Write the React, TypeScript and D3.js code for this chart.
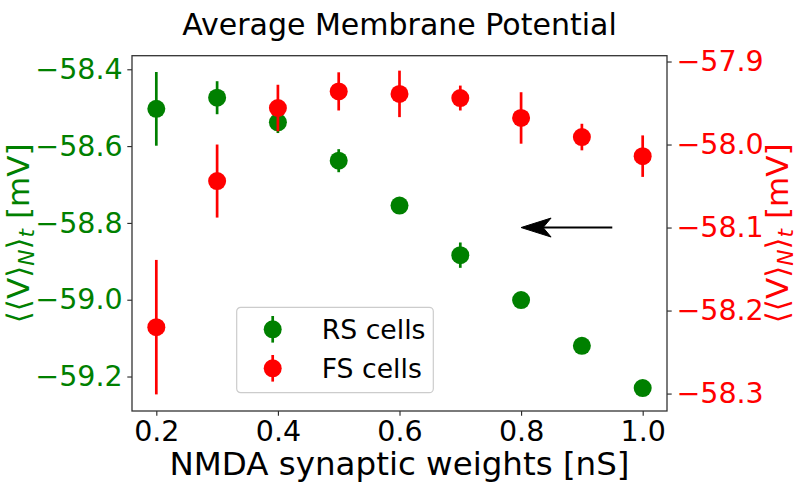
import React, { useEffect, useRef } from 'react';
import * as d3 from 'd3';

// data
const weights = [0.2, 0.3, 0.4, 0.5, 0.6, 0.7, 0.8, 0.9, 1.0];
const rsMean = [-58.503, -58.474, -58.538, -58.638, -58.755, -58.884, -59.001, -59.12, -59.23];
const rsErr = [0.096, 0.043, 0.028, 0.03, 0.006, 0.033, 0.005, 0.005, 0.005];
const fsMean = [-58.22, -58.044, -57.956, -57.936, -57.939, -57.944, -57.968, -57.991, -58.014];
const fsErr = [0.081, 0.044, 0.028, 0.023, 0.028, 0.015, 0.031, 0.016, 0.025];
const xTicks = [0.2, 0.4, 0.6, 0.8, 1.0];
const rsTicks = [-58.4, -58.6, -58.8, -59.0, -59.2];
const fsTicks = [-57.9, -58.0, -58.1, -58.2, -58.3];
const arrowFrom = [0.95, -58.1]; // on FS axis
const arrowTo = [0.8, -58.1];

const GREEN = '#008000';
const RED = '#ff0000';
const FONT = '"DejaVu Sans", sans-serif';

const App = () => {
  const svgRef = useRef<SVGSVGElement | null>(null);

  useEffect(() => {
    const W = 798, H = 483;
    const margin = { top: 55.7, right: 131, bottom: 72, left: 132 };
    const width = W - margin.left - margin.right;
    const height = H - margin.top - margin.bottom;

    const root = d3.select(svgRef.current);
    root.selectAll('*').remove();
    root.attr('width', W).attr('height', H);

    const svg = root.append('g')
      .attr('transform', `translate(${margin.left},${margin.top})`);

    const x = d3.scaleLinear().domain([0.16, 1.04]).range([0, width]);
    const yL = d3.scaleLinear().domain([-59.2898, -58.3646]).range([height, 0]);
    const yR = d3.scaleLinear().domain([-58.321, -57.893]).range([height, 0]);

    const tickLen = 4.7;
    const styleAxis = (g: any, color: string) => {
      g.select('.domain').remove();
      g.selectAll('.tick line').attr('stroke', '#222').attr('stroke-width', 1.1);
      g.selectAll('.tick text')
        .style('font-family', FONT)
        .style('font-size', '28.5px')
        .attr('fill', color);
    };

    // axes
    svg.append('g')
      .attr('transform', `translate(0,${height})`)
      .call(d3.axisBottom(x).tickValues(xTicks).tickFormat(d3.format('.1f')).tickSize(tickLen).tickPadding(4.7))
      .call((g: any) => styleAxis(g, '#000'));

    svg.append('g')
      .call(d3.axisLeft(yL).tickValues(rsTicks).tickFormat(d3.format('.1f')).tickSize(tickLen).tickPadding(4.7))
      .call((g: any) => styleAxis(g, GREEN));

    svg.append('g')
      .attr('transform', `translate(${width},0)`)
      .call(d3.axisRight(yR).tickValues(fsTicks).tickFormat(d3.format('.1f')).tickSize(tickLen).tickPadding(4.7))
      .call((g: any) => styleAxis(g, RED));

    // frame
    svg.append('rect')
      .attr('width', width).attr('height', height)
      .attr('fill', 'none').attr('stroke', '#333').attr('stroke-width', 1.3);

    // error bars + markers
    const drawSeries = (mean: number[], err: number[], y: any, color: string) => {
      const g = svg.append('g');
      g.selectAll('line')
        .data(weights)
        .enter()
        .append('line')
        .attr('x1', (d) => x(d)).attr('x2', (d) => x(d))
        .attr('y1', (d, i) => y(mean[i] - err[i]))
        .attr('y2', (d, i) => y(mean[i] + err[i]))
        .attr('stroke', color).attr('stroke-width', 2.7);
      g.selectAll('circle')
        .data(weights)
        .enter()
        .append('circle')
        .attr('cx', (d) => x(d))
        .attr('cy', (d, i) => y(mean[i]))
        .attr('r', 9)
        .attr('fill', color);
    };
    drawSeries(rsMean, rsErr, yL, GREEN);
    drawSeries(fsMean, fsErr, yR, RED);

    // arrow annotation
    const ax0 = x(arrowFrom[0]), ay0 = yR(arrowFrom[1]);
    const ax1 = x(arrowTo[0]), ay1 = yR(arrowTo[1]);
    svg.append('line')
      .attr('x1', ax0).attr('y1', ay0).attr('x2', ax1 + 20).attr('y2', ay1)
      .attr('stroke', '#000').attr('stroke-width', 2);
    svg.append('path')
      .attr('d', `M${ax1},${ay1} L${ax1 + 30},${ay1 - 9.5} L${ax1 + 22},${ay1} L${ax1 + 30},${ay1 + 9.5} Z`)
      .attr('fill', '#000').attr('stroke', '#000').attr('stroke-width', 1).attr('stroke-linejoin', 'round');

    // legend
    const lg = root.append('g').attr('transform', 'translate(236.7,307.3)');
    lg.append('rect')
      .attr('width', 196.6).attr('height', 85.4).attr('rx', 4)
      .attr('fill', 'white').attr('fill-opacity', 0.8)
      .attr('stroke', '#cccccc').attr('stroke-width', 1.2);
    const legendItems = [
      { label: 'RS cells', color: GREEN },
      { label: 'FS cells', color: RED },
    ];
    legendItems.forEach((it, i) => {
      const cy = 22 + i * 39;
      lg.append('line')
        .attr('x1', 36).attr('x2', 36).attr('y1', cy - 13.3).attr('y2', cy + 13.3)
        .attr('stroke', it.color).attr('stroke-width', 2.7);
      lg.append('circle').attr('cx', 36).attr('cy', cy).attr('r', 9).attr('fill', it.color);
      lg.append('text')
        .attr('x', 85).attr('y', cy + 9.7)
        .style('font-family', FONT).style('font-size', '26.7px')
        .text(it.label);
    });

    // title
    root.append('text')
      .attr('x', margin.left + width / 2).attr('y', 35)
      .attr('text-anchor', 'middle')
      .style('font-family', FONT).style('font-size', '30px')
      .text('Average Membrane Potential');

    // x label
    root.append('text')
      .attr('x', margin.left + width / 2).attr('y', 475)
      .attr('text-anchor', 'middle')
      .style('font-family', FONT).style('font-size', '32.5px')
      .text('NMDA synaptic weights [nS]');

    // y labels
    const yLabel = (tx: number, color: string) => {
      const t = root.append('text')
        .attr('transform', `translate(${tx},${margin.top + height / 2}) rotate(-90)`)
        .attr('text-anchor', 'middle')
        .style('font-family', FONT).style('font-size', '31px')
        .attr('fill', color);
      t.append('tspan').text('\u27E8\u27E8V\u27E9');
      t.append('tspan').attr('dy', 5).style('font-size', '21.7px').style('font-style', 'italic').text('N');
      t.append('tspan').attr('dy', -5).text('\u27E9');
      t.append('tspan').attr('dy', 5).style('font-size', '21.7px').style('font-style', 'italic').text('t');
      t.append('tspan').attr('dy', -5).text(' [mV]');
    };
    yLabel(29, GREEN);
    yLabel(788, RED);
  }, []);

  return (
    <svg ref={svgRef} style={{ position: 'absolute', left: 0, top: 0 }}></svg>
  );
};

export default App;
